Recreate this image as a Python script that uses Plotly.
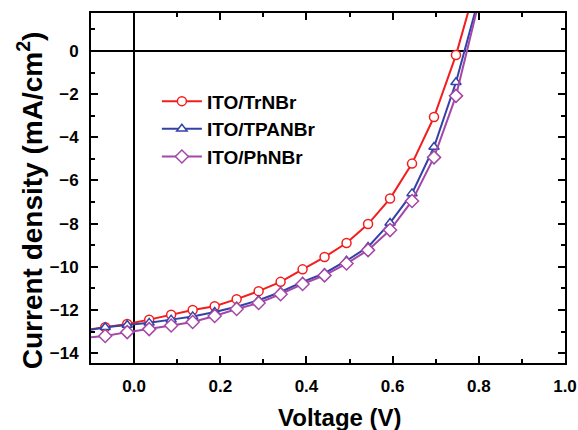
import plotly.graph_objects as go

voltage = [-0.118, -0.067, -0.016, 0.035, 0.086, 0.136, 0.187, 0.238, 0.289, 0.340,
           0.391, 0.442, 0.493, 0.543, 0.594, 0.645, 0.696, 0.747, 0.798]

j_trnbr = [-12.95, -12.8, -12.65, -12.45, -12.22, -12.0, -11.83, -11.5, -11.13, -10.7,
           -10.12, -9.55, -8.9, -8.02, -6.84, -5.22, -3.06, -0.19, 3.4]
j_tpanbr = [-12.98, -12.8, -12.7, -12.6, -12.45, -12.3, -12.1, -11.85, -11.55, -11.17,
            -10.7, -10.3, -9.72, -9.08, -7.97, -6.6, -4.45, -1.45, 2.3]
j_phnbr = [-13.3, -13.21, -13.03, -12.89, -12.72, -12.56, -12.28, -11.96, -11.68, -11.27,
           -10.8, -10.4, -9.85, -9.23, -8.3, -6.95, -4.93, -2.08, 2.1]

names = ["ITO/TrNBr", "ITO/TPANBr", "ITO/PhNBr"]
colors = ["#f21d1d", "#3342a6", "#a447a8"]
symbols = ["circle", "triangle-up", "diamond"]
series = [j_trnbr, j_tpanbr, j_phnbr]

x_title = "Voltage (V)"
y_title = "Current density (mA/cm<sup>2</sup>)"

FONT = "Liberation Sans, Arial, sans-serif"

fig = go.Figure()
for name, c, s, ys in zip(names, colors, symbols, series):
    fig.add_trace(go.Scatter(
        x=voltage, y=ys, name=name, mode="lines+markers",
        line=dict(color=c, width=2),
        marker=dict(symbol=s, size=9 if s != "diamond" else 10, color="white",
                    line=dict(color=c, width=1.5)),
    ))

axis_common = dict(
    showline=True, linecolor="black", linewidth=2, mirror="ticks",
    ticks="inside", ticklen=7, tickwidth=2, tickcolor="black",
    showgrid=False, zeroline=True, zerolinecolor="black", zerolinewidth=2,
    automargin=False, ticklabelstandoff=7,
    tickfont=dict(family=FONT, size=17, color="black", weight="bold"),
)

fig.update_xaxes(
    range=[-0.1, 1.0], dtick=0.2, tick0=0, tickformat=".1f",
    minor=dict(ticks="inside", dtick=0.1, ticklen=4, tickwidth=2, tickcolor="black"),
    **axis_common,
)
fig.update_yaxes(
    range=[-14.46, 1.76], dtick=2, tick0=0,
    minor=dict(ticks="inside", dtick=1, ticklen=4, tickwidth=2, tickcolor="black"),
    **axis_common,
)

fig.add_annotation(text=x_title, xref="paper", yref="paper", x=0.525, y=-0.155,
                   xanchor="center", yanchor="middle", showarrow=False,
                   font=dict(family=FONT, size=24, color="black", weight="bold"))
fig.add_annotation(text=y_title, xref="paper", yref="paper", x=-0.128, y=0.466,
                   xanchor="center", yanchor="middle", showarrow=False, textangle=-90,
                   font=dict(family=FONT, size=28, color="black", weight="bold"))

fig.update_layout(
    width=578, height=430,
    margin=dict(l=91, r=13, t=13, b=67),
    plot_bgcolor="white", paper_bgcolor="white",
    showlegend=True,
    legend=dict(x=0.139, y=0.802, xanchor="left", yanchor="top",
                bgcolor="rgba(0,0,0,0)", itemwidth=40,
                font=dict(family=FONT, size=19, color="black", weight="bold"),
                tracegroupgap=0),
)

fig.write_html("out.html", post_script="document.body.style.margin='0';",
               config={"displayModeBar": False})
